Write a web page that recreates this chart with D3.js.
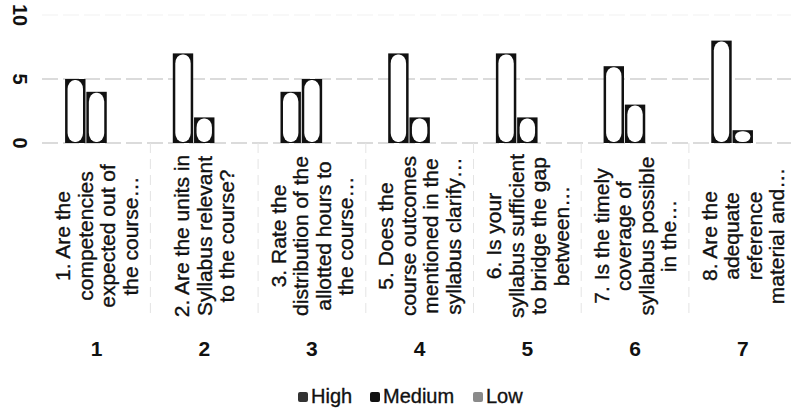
<!DOCTYPE html>
<html><head><meta charset="utf-8">
<script src="https://cdn.jsdelivr.net/npm/d3@7"></script>
<style>
html,body{margin:0;padding:0;background:#fff;}
svg{display:block;font-family:"Liberation Sans",Arial,sans-serif;}
</style></head>
<body>
<svg id="chart" width="791" height="408"></svg>
<script>
const categories = ["1","2","3","4","5","6","7"];
const categoryLabels = [
  ["1. Are the","competencies","expected out of","the course…"],
  ["2. Are the units in","Syllabus relevant","to the course?"],
  ["3. Rate the","distribution of the","allotted hours to","the course…"],
  ["5. Does the","course outcomes","mentioned in the","syllabus clarify…"],
  ["6. Is your","syllabus sufficient","to bridge the gap","between…"],
  ["7. Is the timely","coverage of","syllabus possible","in the…"],
  ["8. Are the","adequate","reference","material and…"]
];
const seriesNames = ["High","Medium","Low"];
const highValues = [5,7,4,7,7,6,8];
const mediumValues = [4,2,5,2,2,3,1];
const lowValues = [0,0,0,0,0,0,0];
const yTicks = [0,5,10];

const seriesValues = {High: highValues, Medium: mediumValues, Low: lowValues};
const legendColors = {High:"#333", Medium:"#111", Low:"#8a8a8a"};

const svg = d3.select("#chart");
const y = d3.scaleLinear().domain([0,10]).range([143,15]);
const x0 = d3.scaleBand().domain(categories).range([42.7,796.6]).paddingInner(0.4).paddingOuter(0.2);
const x1 = d3.scaleBand().domain(seriesNames).range([0,x0.bandwidth()]).padding(0.04);

// gridlines
svg.append("g").selectAll("line").data(yTicks).join("line")
  .attr("x1",42).attr("x2",791)
  .attr("y1",d=>y(d)).attr("y2",d=>y(d))
  .attr("stroke",d=>d===10?"#f2f2f2":"#b8b8b8")
  .attr("stroke-width",1.2)
  .attr("stroke-dasharray","16,5");

// faint category separators
const step = x0.step();
const seps = categories.slice(1).map(c => x0(c) - step*0.2);
svg.append("g").selectAll("line").data(seps).join("line")
  .attr("x1",d=>d).attr("x2",d=>d).attr("y1",y(0)).attr("y2",318)
  .attr("stroke","#e4e4e4").attr("stroke-width",1).attr("stroke-dasharray","10,6");

// bars
const barData = [];
categories.forEach((c,i)=>seriesNames.forEach(s=>barData.push({c, s, v: seriesValues[s][i]})));
const bars = svg.append("g").selectAll("g").data(barData.filter(d=>d.v>0)).join("g");
bars.append("rect")
  .attr("x",d=>x0(d.c)+x1(d.s)).attr("width",x1.bandwidth())
  .attr("y",d=>y(d.v)).attr("height",d=>y(0)-y(d.v))
  .attr("fill","#111");
bars.append("rect")
  .attr("x",d=>x0(d.c)+x1(d.s)+2.5).attr("width",x1.bandwidth()-5)
  .attr("y",d=>y(d.v)+1).attr("height",d=>Math.max(0,y(0)-y(d.v)-2))
  .attr("rx",7).attr("ry",d=>Math.min(9,(y(0)-y(d.v)-2)/2))
  .attr("fill","#fff");

// y tick labels (rotated)
svg.append("g").selectAll("text").data(yTicks).join("text")
  .attr("transform",d=>`translate(20,${y(d)}) rotate(90)`)
  .attr("text-anchor","middle").attr("dominant-baseline","central")
  .attr("font-size",20).attr("font-weight","bold").attr("fill","#111")
  .text(d=>d);

// category labels (rotated, multi-line)
const labG = svg.append("g");
categories.forEach((c,i)=>{
  const lines = categoryLabels[i];
  const cx = x0(c)+x0.bandwidth()/2;
  lines.forEach((t,j)=>{
    const off = (j-(lines.length-1)/2)*22.5;
    labG.append("text")
      .attr("transform",`translate(${cx+off},236) rotate(-90)`)
      .attr("text-anchor","middle").attr("dominant-baseline","central")
      .attr("font-size",21).attr("fill","#111")
      .attr("stroke","#111").attr("stroke-width",0.35)
      .text(t);
  });
});

// category numbers
svg.append("g").selectAll("text").data(categories).join("text")
  .attr("x",d=>x0(d)+x0.bandwidth()/2).attr("y",356)
  .attr("text-anchor","middle")
  .attr("font-size",21).attr("font-weight","bold").attr("fill","#111")
  .text(d=>d);

// legend
const legendPos = {High:298, Medium:370, Low:473};
const lg = svg.append("g");
seriesNames.forEach(s=>{
  lg.append("rect").attr("x",legendPos[s]).attr("y",392).attr("width",10).attr("height",10)
    .attr("rx",2).attr("fill",legendColors[s]);
  lg.append("text").attr("x",legendPos[s]+13).attr("y",403)
    .attr("font-size",20).attr("fill","#111").attr("stroke","#111").attr("stroke-width",0.35)
    .text(s);
});
</script>
</body></html>
